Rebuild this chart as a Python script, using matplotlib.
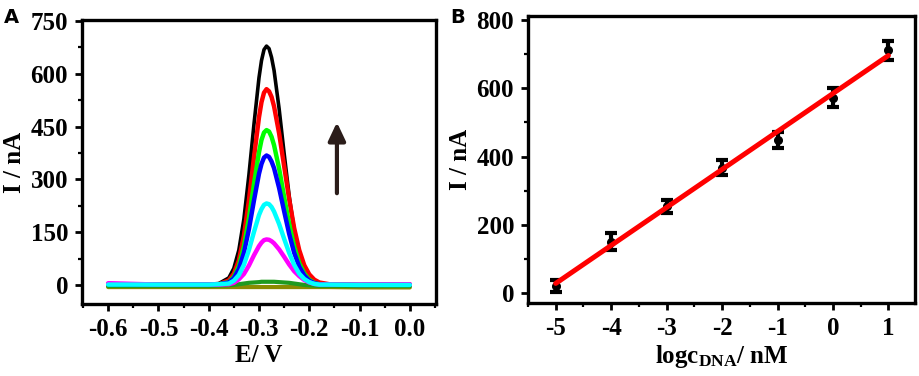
import numpy as np
import matplotlib
matplotlib.use("Agg")
import matplotlib.pyplot as plt
from matplotlib.ticker import MultipleLocator

# ---- panel A: DPV curves ----
potential = [-0.60, -0.50, -0.40, -0.38, -0.36, -0.35, -0.34, -0.33, -0.32, -0.31,
             -0.30, -0.295, -0.29, -0.285, -0.28, -0.275, -0.27, -0.26, -0.25, -0.24,
             -0.23, -0.22, -0.21, -0.20, -0.19, -0.18, -0.16, -0.10, 0.00]

cur_olive = [-5, -5, -5, -5, -5, -5, -5, -5, -5, -5,
             -5, -5, -5, -5, -5, -5, -5, -5, -5, -5,
             -5, -5, -5, -5, -5, -5, -5, -6, -6]
cur_dkgreen = [-2, -2, -2, -1, 0, 1, 3, 5, 7, 8,
               9, 10, 10, 10, 10, 10, 10, 9, 8, 7,
               5, 3, 1, 0, -1, -2, -2, -2, -2]
cur_black = [3, 2, 3, 5, 21, 48, 100, 188, 313, 456,
             588, 637, 668, 678, 671, 646, 609, 501, 374, 254,
             156, 88, 46, 22, 10, 5, 2, 1, 2]
cur_red = [3, 2, 2, 3, 14, 33, 71, 140, 241, 362,
           476, 519, 546, 556, 550, 534, 507, 431, 338, 244,
           162, 100, 57, 31, 16, 8, 3, 1, 2]
cur_green = [3, 2, 2, 3, 9, 24, 55, 110, 190, 287,
             377, 412, 433, 440, 436, 421, 397, 331, 251, 174,
             110, 63, 34, 16, 7, 3, 2, 1, 2]
cur_blue = [3, 2, 2, 3, 8, 20, 46, 92, 159, 240,
            316, 344, 362, 368, 364, 351, 332, 276, 210, 146,
            92, 53, 28, 13, 6, 3, 2, 1, 2]
cur_magenta = [6, 2, 2, 2, 3, 7, 17, 32, 56, 85,
               111, 121, 128, 130, 129, 125, 119, 102, 81, 59,
               40, 26, 15, 8, 4, 2, 2, 2, 3]
cur_cyan = [2, 2, 2, 3, 5, 13, 29, 58, 100, 151,
            199, 216, 228, 232, 230, 222, 209, 174, 132, 92,
            58, 33, 18, 9, 4, 2, 2, 1, 1]

curves = [
    (cur_olive, "#8a8a00", 3.0),
    (cur_dkgreen, "#1f9a1f", 3.0),
    (cur_black, "black", 2.6),
    (cur_red, "#ff0000", 3.2),
    (cur_green, "#00ff00", 3.2),
    (cur_blue, "#0000ff", 3.2),
    (cur_magenta, "#ff00ff", 3.2),
    (cur_cyan, "#00ffff", 3.2),
]

# ---- panel B: calibration ----
log_conc = [-5, -4, -3, -2, -1, 0, 1]
peak_current = [21, 151, 254, 368, 448, 573, 711]
peak_err = [17, 24, 19, 22, 24, 27, 28]
fit_slope = 111.3
fit_intercept = 585.0

plt.rcParams["font.family"] = "Liberation Serif"
plt.rcParams["font.weight"] = "bold"
plt.rcParams["axes.unicode_minus"] = False
plt.rcParams["mathtext.fontset"] = "custom"
plt.rcParams["mathtext.rm"] = "Liberation Serif:bold"
plt.rcParams["mathtext.default"] = "rm"

FS = 18


def style_axes(ax):
    for s in ax.spines.values():
        s.set_linewidth(2.4)
    ax.tick_params(which="major", direction="out", length=5, width=2,
                   labelsize=FS, pad=5)
    ax.tick_params(which="minor", direction="out", length=3, width=1.6)
    for lab in ax.get_xticklabels() + ax.get_yticklabels():
        lab.set_fontweight("bold")


fig = plt.figure(figsize=(9.2, 3.76), dpi=100)

# panel A
axA = fig.add_axes([0.0891, 0.1915, 0.3848, 0.7553])
for ys, col, lw in curves:
    axA.plot(potential, ys, color=col, lw=lw, solid_capstyle="round",
             solid_joinstyle="round")
axA.set_xlim(-0.652, 0.052)
axA.set_ylim(-53, 752)
axA.xaxis.set_minor_locator(MultipleLocator(0.05))
axA.yaxis.set_major_locator(MultipleLocator(150))
axA.yaxis.set_minor_locator(MultipleLocator(75))
axA.set_xticks(np.arange(-0.6, 0.01, 0.1))
axA.set_xticklabels(["-0.6", "-0.5", "-0.4", "-0.3", "-0.2", "-0.1", "0.0"])
style_axes(axA)
axA.set_xlabel("E/ V", fontsize=FS, fontweight="bold", labelpad=2)
axA.set_ylabel("I / nA", fontsize=FS, fontweight="bold", labelpad=3)
axA.annotate("", xy=(-0.145, 462), xytext=(-0.145, 261),
             arrowprops=dict(arrowstyle="-|>,head_width=0.26,head_length=0.55",
                             mutation_scale=20, lw=3.0, color="#2b1d1a",
                             shrinkA=0, shrinkB=0))

# panel B
axB = fig.add_axes([0.5739, 0.1941, 0.4207, 0.7633])
axB.errorbar(log_conc, peak_current, yerr=peak_err, fmt="o", color="black",
             ms=5.5, elinewidth=3, capsize=4, capthick=3, zorder=2)
fit_x = np.array([log_conc[0], log_conc[-1]])
axB.plot(fit_x, fit_slope * fit_x + fit_intercept, color="#ff0000", lw=3.6,
         solid_capstyle="round", zorder=3)
axB.set_xlim(-5.5, 1.48)
axB.set_ylim(-29, 812)
axB.xaxis.set_major_locator(MultipleLocator(1))
axB.xaxis.set_minor_locator(MultipleLocator(0.5))
axB.yaxis.set_major_locator(MultipleLocator(200))
axB.yaxis.set_minor_locator(MultipleLocator(100))
style_axes(axB)
axB.set_xlabel("logc$_{DNA}$/ nM", fontsize=FS, fontweight="bold", labelpad=2)
axB.set_ylabel("I / nA", fontsize=FS, fontweight="bold", labelpad=3)

fig.text(0.004, 0.98, "A", fontsize=14, fontweight="bold",
         family="DejaVu Sans", va="top", ha="left")
fig.text(0.489, 0.98, "B", fontsize=14, fontweight="bold",
         family="DejaVu Sans", va="top", ha="left")

fig.savefig("out.png", dpi=100)
